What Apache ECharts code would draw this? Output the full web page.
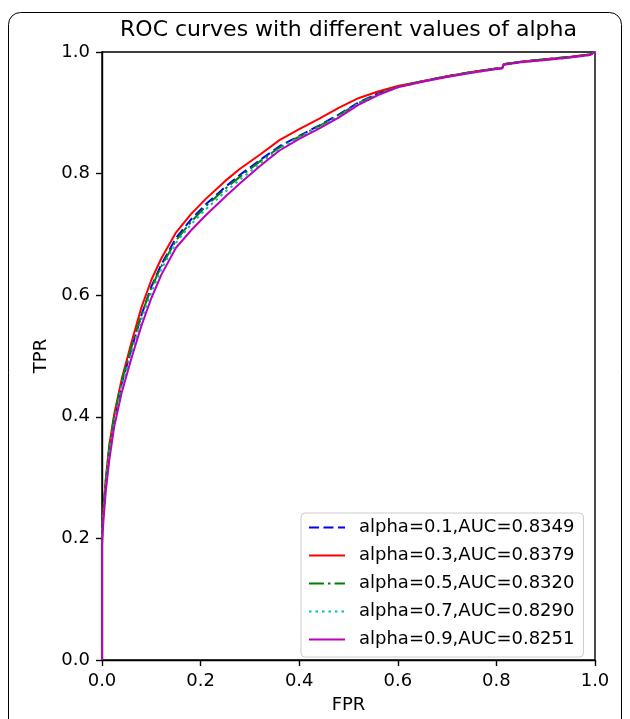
<!DOCTYPE html>
<html>
<head>
<meta charset="utf-8">
<script src="https://cdn.jsdelivr.net/npm/echarts@6/dist/echarts.min.js"></script>
<style>
html,body{margin:0;padding:0;background:#fff;}
#chart{width:630px;height:719px;}
</style>
</head>
<body>
<div id="chart"></div>
<script>
// ---- data ----
const fpr = [0, 0, 0.003, 0.008, 0.015, 0.025, 0.04, 0.06, 0.08, 0.10, 0.12, 0.15, 0.18, 0.21, 0.25, 0.28, 0.32, 0.36, 0.40, 0.44, 0.48, 0.52, 0.56, 0.60, 0.65, 0.70, 0.75, 0.80, 0.812, 0.815, 0.85, 0.90, 0.95, 0.99, 1.0];

const tprAlpha01 = [0, 0.205, 0.245, 0.295, 0.348, 0.398, 0.455, 0.512, 0.567, 0.614, 0.650, 0.694, 0.724, 0.749, 0.778, 0.798, 0.822, 0.845, 0.862, 0.879, 0.897, 0.917, 0.932, 0.943, 0.952, 0.960, 0.967, 0.973, 0.974, 0.980, 0.984, 0.988, 0.992, 0.996, 1.0];
const tprAlpha03 = [0, 0.210, 0.250, 0.300, 0.355, 0.405, 0.462, 0.523, 0.580, 0.625, 0.660, 0.703, 0.733, 0.758, 0.788, 0.808, 0.831, 0.855, 0.873, 0.890, 0.908, 0.924, 0.935, 0.944, 0.952, 0.960, 0.967, 0.973, 0.974, 0.980, 0.984, 0.988, 0.992, 0.996, 1.0];
const tprAlpha05 = [0, 0.215, 0.250, 0.298, 0.352, 0.402, 0.458, 0.515, 0.568, 0.612, 0.647, 0.690, 0.720, 0.746, 0.775, 0.795, 0.820, 0.843, 0.861, 0.878, 0.896, 0.916, 0.931, 0.943, 0.952, 0.960, 0.967, 0.973, 0.974, 0.980, 0.984, 0.988, 0.992, 0.996, 1.0];
const tprAlpha07 = [0, 0.200, 0.240, 0.290, 0.343, 0.393, 0.450, 0.506, 0.560, 0.605, 0.642, 0.686, 0.716, 0.741, 0.770, 0.790, 0.816, 0.841, 0.860, 0.876, 0.894, 0.915, 0.930, 0.942, 0.951, 0.959, 0.966, 0.972, 0.973, 0.979, 0.983, 0.987, 0.991, 0.995, 1.0];
const tprAlpha09 = [0, 0.190, 0.230, 0.280, 0.330, 0.385, 0.440, 0.497, 0.550, 0.595, 0.633, 0.678, 0.706, 0.731, 0.762, 0.784, 0.812, 0.838, 0.857, 0.874, 0.892, 0.913, 0.929, 0.942, 0.951, 0.959, 0.966, 0.972, 0.973, 0.979, 0.983, 0.987, 0.991, 0.995, 1.0];

const seriesNames = ['alpha=0.1,AUC=0.8349', 'alpha=0.3,AUC=0.8379', 'alpha=0.5,AUC=0.8320', 'alpha=0.7,AUC=0.8290', 'alpha=0.9,AUC=0.8251'];
const tickValues = [0, 0.2, 0.4, 0.6, 0.8, 1.0];

// ---- styles ----
const colors = ['#0000ff', '#ff0000', '#008000', '#00bfbf', '#bf00bf'];
const dashTypes = [[10, 4.5], 'solid', [15, 4, 2.5, 4], [2.5, 4], 'solid'];
const tprAll = [tprAlpha01, tprAlpha03, tprAlpha05, tprAlpha07, tprAlpha09];

const FONT = 'DejaVu Sans';

const series = tprAll.map((tpr, i) => ({
  name: seriesNames[i],
  type: 'line',
  data: fpr.map((x, k) => [x, tpr[k]]),
  showSymbol: false,
  symbol: 'none',
  smooth: false,
  z: 2 + i,
  lineStyle: { color: colors[i], width: 2, type: dashTypes[i] },
  itemStyle: { color: colors[i] },
  emphasis: { disabled: true }
}));

const chart = echarts.init(document.getElementById('chart'), null, { renderer: 'canvas' });
chart.setOption({
  animation: false,
  backgroundColor: '#ffffff',
  title: {
    text: 'ROC curves with different values of alpha',
    left: 348.5,
    textAlign: 'center',
    top: 19,
    padding: 0,
    textStyle: { fontFamily: FONT, fontSize: 22, fontWeight: 'normal', color: '#000' }
  },
  grid: {
    left: 102, right: 35, top: 52, bottom: 52,
    show: true, borderColor: '#000', borderWidth: 1.4, backgroundColor: 'transparent'
  },
  xAxis: {
    type: 'value', min: 0, max: 1, interval: 0.2,
    name: 'FPR', nameLocation: 'middle', nameGap: 36,
    nameTextStyle: { fontFamily: FONT, fontSize: 18, color: '#000' },
    axisLine: { show: true, lineStyle: { color: '#000', width: 1.4 } },
    axisTick: { show: true, length: 6, lineStyle: { color: '#000', width: 1.4 } },
    axisLabel: { margin: 12, fontFamily: FONT, fontSize: 18, color: '#000',
      formatter: v => tickValues.includes(+v.toFixed(1)) ? v.toFixed(1) : '' },
    splitLine: { show: false }
  },
  yAxis: {
    type: 'value', min: 0, max: 1, interval: 0.2,
    name: 'TPR', nameLocation: 'middle', nameGap: 52, nameRotate: 90,
    nameTextStyle: { fontFamily: FONT, fontSize: 18, color: '#000' },
    axisLine: { show: true, lineStyle: { color: '#000', width: 1.4 } },
    axisTick: { show: true, length: 6, lineStyle: { color: '#000', width: 1.4 } },
    axisLabel: { margin: 12, fontFamily: FONT, fontSize: 18, color: '#000',
      formatter: v => v.toFixed(1) },
    splitLine: { show: false }
  },
  legend: {
    orient: 'vertical',
    left: 301, top: 513,
    data: seriesNames,
    itemWidth: 36, itemHeight: 14, itemGap: 9,
    padding: [5, 9, 8, 7],
    backgroundColor: 'rgba(255,255,255,0.8)',
    borderColor: '#cccccc', borderWidth: 1, borderRadius: 4,
    itemStyle: { opacity: 0, color: 'rgba(0,0,0,0)', borderWidth: 0 },
    textStyle: { fontFamily: FONT, fontSize: 18, lineHeight: 19, color: '#000', padding: [0, 0, 0, 9] },
    selectedMode: false,
    z: 20
  },
  graphic: [{
    type: 'rect',
    shape: { x: 8.5, y: 12.5, width: 613, height: 730, r: 12 },
    style: { fill: 'none', stroke: '#000', lineWidth: 1 },
    silent: true, z: 100
  }],
  series: series
});
</script>
</body>
</html>
